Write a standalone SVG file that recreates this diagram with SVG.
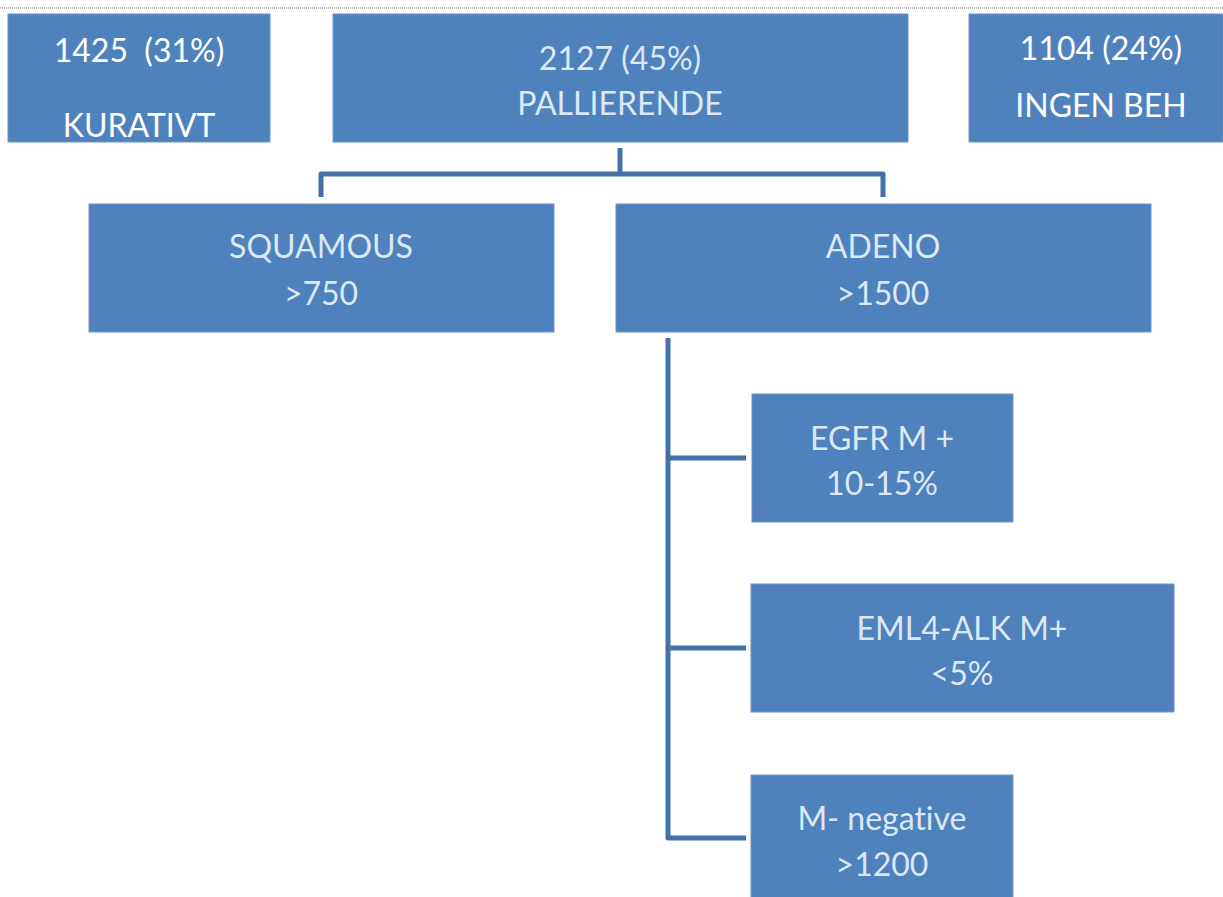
<svg xmlns="http://www.w3.org/2000/svg" width="1223" height="897" viewBox="0 0 1223 897">
<style>
.box{fill:#4F81BD;stroke:#6E95C9;stroke-width:1}
.t{font-family:Lato,"Liberation Sans",sans-serif;font-size:32px;text-anchor:middle;fill:#DCE8F4;font-variant-ligatures:none}
.w{fill:#FFFFFF}
.c{fill:none;stroke:#4470A8;stroke-width:5;stroke-linejoin:round}
</style>
<rect width="1223" height="897" fill="#FFFFFF"/>
<line x1="0" y1="8" x2="1223" y2="8" stroke="#777" stroke-width="1" stroke-dasharray="1,1"/>
<g id="connectors">
<path class="c" d="M620,148 V174 M321,197 V174 H883 V197"/>
<path class="c" d="M668,338 V838 H746 M668,458 H746 M668,648 H746"/>
</g>
<g id="kurativt">
<rect class="box" x="8" y="14" width="262" height="128"/>
<text class="t w" x="139" y="62" xml:space="preserve">1425  (31%)</text>
<text class="t w" x="139" y="137">KURATIVT</text>
</g>
<g id="pallierende">
<rect class="box" x="333" y="14" width="575" height="128"/>
<text class="t" x="620" y="70">2127 (45%)</text>
<text class="t" x="620" y="115">PALLIERENDE</text>
</g>
<g id="ingen">
<rect class="box" x="969" y="14" width="254" height="128"/>
<text class="t w" x="1101" y="60">1104 (24%)</text>
<text class="t w" x="1101" y="117">INGEN BEH</text>
</g>
<g id="squamous">
<rect class="box" x="89" y="204" width="465" height="128"/>
<text class="t" x="321" y="258">SQUAMOUS</text>
<text class="t" x="321" y="305">&gt;750</text>
</g>
<g id="adeno">
<rect class="box" x="616" y="204" width="535" height="128"/>
<text class="t" x="883" y="258">ADENO</text>
<text class="t" x="883" y="305">&gt;1500</text>
</g>
<g id="egfr">
<rect class="box" x="752" y="394" width="261" height="128"/>
<text class="t" x="882" y="450">EGFR M +</text>
<text class="t" x="882" y="495">10-15%</text>
</g>
<g id="eml4">
<rect class="box" x="751" y="584" width="423" height="128"/>
<text class="t" x="962" y="640">EML4-ALK M+</text>
<text class="t" x="962" y="685">&lt;5%</text>
</g>
<g id="mneg">
<rect class="box" x="751" y="775" width="262" height="130"/>
<text class="t" x="882" y="830">M- negative</text>
<text class="t" x="882" y="876">&gt;1200</text>
</g>
</svg>
